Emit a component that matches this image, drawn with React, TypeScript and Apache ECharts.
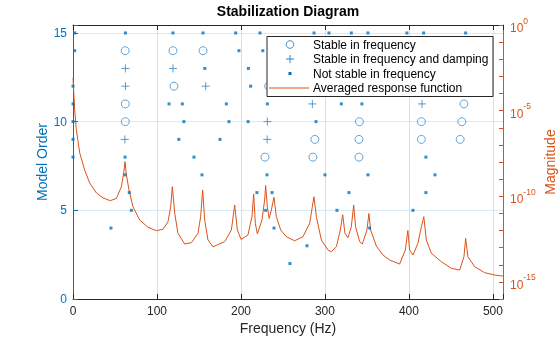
import React, { useEffect, useRef } from 'react';
import * as echarts from 'echarts';

const BLUE = '#0072BD';
const ORANGE = '#D95319';
const INK = '#262626';
const FONT = '"Liberation Sans", Arial, Helvetica, sans-serif';

// [frequency (Hz), model order]
const stableInFrequency: [number, number][] = [
  [62.1, 14], [119, 14], [154.8, 14],
  [120.2, 12], [233, 12],
  [62.3, 11], [465.5, 11],
  [62.3, 10], [341, 10], [414.8, 10], [463, 10],
  [288, 9], [340.5, 9], [414.8, 9], [461, 9],
  [228.6, 8], [285.7, 8], [340.5, 8],
];

const stableInFreqAndDamping: [number, number][] = [
  [62.4, 13], [119, 13],
  [62.4, 12], [158, 12],
  [285, 11], [415.5, 11],
  [231.4, 10],
  [61.7, 9], [231.2, 9],
];

const notStableInFrequency: [number, number][] = [
  [2, 15], [62.4, 15], [119, 15], [154.8, 15], [193.7, 15], [222.6, 15], [287, 15], [304.8, 15], [331.4, 15], [351.2, 15], [397.6, 15], [417.5, 15], [467.5, 15],
  [2, 14], [197.6, 14], [226, 14],
  [157, 13], [208.8, 13],
  [0, 12], [211.5, 12],
  [0, 11], [114.3, 11], [130.2, 11], [182.6, 11], [231.4, 11], [319.5, 11], [344, 11],
  [0, 10], [132, 10], [185.7, 10], [208.5, 10], [289.3, 10],
  [0, 9], [126, 9], [175, 9],
  [0, 8], [62, 8], [144, 8], [420.2, 8],
  [62, 7], [153.6, 7], [231, 7], [300, 7], [351.2, 7], [431, 7],
  [67, 6], [219, 6], [237, 6], [328.6, 6], [420.2, 6],
  [69.5, 5], [229.4, 5], [314.3, 5], [404.8, 5],
  [45.2, 4], [239.3, 4], [353.2, 4],
  [278.6, 3],
  [258.3, 2],
];

// Averaged response function: frequency (Hz) and log10 of magnitude
const responseFreqHz = [
  0, 2.0, 4.0, 8.0, 13.9, 19.9, 27.9, 35.7, 44.5, 51.7, 57.6, 60.4, 61.9, 63.6, 66.7, 71.4, 79.4, 89.3, 99.3,
  107.1, 113.1, 116.3, 118.3, 121.1, 125.0, 133.0, 141.0, 148.8, 152.0, 154.4, 156.8, 160.7, 166.7, 180.6,
  188.6, 192.5, 195.7, 200.2, 208.3, 213.1, 215.1, 217.1, 219.5, 225.0, 228.2, 229.4, 231.4, 233.6, 236.2,
  239.3, 242.1, 247.3, 254.0, 263.9, 273.8, 281.8, 285.0, 286.9, 289.8, 295.7, 303.6, 307.6, 313.6, 318.3,
  321.1, 323.8, 327.4, 331.4, 334.2, 336.5, 341.3, 344.5, 350.0, 352.3, 354.4, 361.2, 369.0, 377.0, 388.9,
  395.7, 398.7, 400.8, 404.8, 410.7, 414.8, 417.7, 420.7, 426.7, 438.6, 450.5, 460.4, 465.5, 467.5, 470.2,
  478.2, 490.1, 502.0, 512,
];
const responseLog10Magnitude = [
  -3.09, -4.96, -6.13, -7.47, -8.47, -9.23, -9.81, -10.10, -10.26, -10.12, -9.44, -8.64, -7.98, -8.76, -9.64, -10.61, -11.39, -11.81, -12.01,
  -11.93, -11.49, -10.61, -9.44, -11.00, -12.16, -12.79, -12.71, -12.16, -11.19, -9.64, -11.39, -12.55, -12.95, -12.65,
  -11.97, -10.51, -11.97, -12.53, -12.26, -11.19, -9.87, -11.58, -12.20, -11.39, -10.22, -9.37, -10.61, -11.30, -10.80,
  -10.06, -11.19, -11.97, -12.36, -12.60, -12.36, -11.58, -10.61, -10.03, -11.19, -12.55, -13.14, -13.24, -12.95, -11.97,
  -11.08, -12.16, -12.42, -11.78, -10.51, -11.78, -12.65, -12.79, -11.97, -11.01, -11.97, -12.91, -13.43, -13.72, -13.96,
  -13.14, -12.00, -13.14, -13.43, -12.75, -11.78, -11.19, -12.55, -13.33, -13.82, -14.21, -14.31, -13.53, -12.46, -13.53,
  -14.11, -14.46, -14.60, -14.66,
];

const legendLabels = [
  'Stable in frequency',
  'Stable in frequency and damping',
  'Not stable in frequency',
  'Averaged response function',
];

export default function App() {
  const ref = useRef<HTMLDivElement>(null);

  useEffect(() => {
    const chart = echarts.init(ref.current!, undefined, { renderer: 'svg' });

    const lx = 267, ly = 36.5, lw = 226, lh = 60;
    const rowY = [44.5, 59, 73.5, 88];
    const iconX = 290;
    const Z = 100;

    chart.setOption({
      animation: false,
      textStyle: { fontFamily: FONT },
      title: {
        text: 'Stabilization Diagram',
        left: 288,
        top: 4,
        padding: 0,
        textAlign: 'center',
        textStyle: { fontSize: 14, fontWeight: 'bold', color: '#000', fontFamily: FONT },
      },
      grid: { left: 73, right: 57, top: 25, bottom: 38, containLabel: false, outerBoundsMode: 'none' },
      xAxis: [
        {
          type: 'value', min: 0, max: 512, interval: 100, position: 'bottom',
          name: 'Frequency (Hz)', nameLocation: 'middle', nameGap: 22, nameMoveOverlap: false,
          nameTextStyle: { fontSize: 14, color: INK, fontFamily: FONT },
          axisLine: { onZero: false, lineStyle: { color: INK, width: 1 } },
          axisTick: { inside: true, length: 5, lineStyle: { color: INK } },
          axisLabel: {
            margin: 6, fontSize: 12, color: INK, fontFamily: FONT,
            formatter: (v: number) => (v % 100 === 0 ? String(v) : ''),
          },
          splitLine: { show: true, lineStyle: { color: '#dedede', width: 1 } },
        },
        {
          type: 'value', min: 0, max: 512, interval: 100, position: 'top',
          axisLine: { onZero: false, lineStyle: { color: INK, width: 1 } },
          axisTick: { inside: true, length: 5, lineStyle: { color: INK } },
          axisLabel: { show: false },
          splitLine: { show: false },
        },
      ],
      yAxis: [
        {
          type: 'value', min: 0, max: 15.45, interval: 5, position: 'left',
          name: 'Model Order', nameLocation: 'middle', nameGap: 24, nameRotate: 90, nameMoveOverlap: false,
          nameTextStyle: { fontSize: 14, color: BLUE, fontFamily: FONT },
          axisLine: { onZero: false, lineStyle: { color: BLUE, width: 1 } },
          axisTick: { inside: true, length: 5, lineStyle: { color: BLUE } },
          axisLabel: {
            margin: 6, fontSize: 12, color: BLUE, fontFamily: FONT,
            formatter: (v: number) => (v % 5 === 0 ? String(v) : ''),
          },
          splitLine: { show: true, lineStyle: { color: '#d9eaf5', width: 1 } },
        },
        {
          type: 'value', min: -16, max: 0, interval: 1, position: 'right',
          name: 'Magnitude', nameLocation: 'middle', nameGap: 40, nameRotate: 90, nameMoveOverlap: false,
          nameTextStyle: { fontSize: 14, color: ORANGE, fontFamily: FONT },
          axisLine: { onZero: false, lineStyle: { color: ORANGE, width: 1 } },
          axisTick: { inside: true, length: 4, lineStyle: { color: ORANGE } },
          axisLabel: {
            margin: 7, color: ORANGE, fontFamily: FONT,
            formatter: (v: number) => (Math.round(v) % 5 === 0 ? `{b|10}{s|${Math.round(v)}}` : ''),
            rich: {
              b: { fontSize: 12, color: ORANGE, fontFamily: FONT, lineHeight: 18, verticalAlign: 'bottom' },
              s: { fontSize: 8.5, color: ORANGE, fontFamily: FONT, lineHeight: 18, verticalAlign: 'top' },
            },
          },
          splitLine: { show: false },
        },
      ],
      series: [
        {
          name: legendLabels[3], type: 'line', xAxisIndex: 0, yAxisIndex: 1,
          data: responseFreqHz.map((f, i) => [f, responseLog10Magnitude[i]]),
          showSymbol: false, symbol: 'none', smooth: false,
          lineStyle: { color: ORANGE, width: 1 },
          z: 2,
        },
        {
          name: legendLabels[0], type: 'scatter', xAxisIndex: 0, yAxisIndex: 0,
          data: stableInFrequency, symbol: 'circle', symbolSize: 8,
          itemStyle: { color: 'rgba(0,0,0,0)', borderColor: '#3a8dcf', borderWidth: 1 },
          z: 3,
        },
        {
          name: legendLabels[1], type: 'scatter', xAxisIndex: 0, yAxisIndex: 0,
          data: stableInFreqAndDamping, symbol: 'path://M0,5L10,5M5,0L5,10', symbolSize: 8,
          itemStyle: { color: 'none', borderColor: '#2a84cc', borderWidth: 1 },
          z: 3,
        },
        {
          name: legendLabels[2], type: 'scatter', xAxisIndex: 0, yAxisIndex: 0,
          data: notStableInFrequency, symbol: 'rect', symbolSize: 3,
          itemStyle: { color: BLUE },
          z: 3,
        },
      ],
      graphic: [
        { type: 'rect', z: Z, shape: { x: lx, y: ly, width: lw, height: lh }, style: { fill: '#fff', stroke: INK, lineWidth: 1 } },
        { type: 'circle', z: Z + 1, shape: { cx: iconX, cy: rowY[0], r: 3.8 }, style: { fill: 'none', stroke: '#3a8dcf', lineWidth: 1 } },
        { type: 'line', z: Z + 1, shape: { x1: iconX - 4, y1: rowY[1], x2: iconX + 4, y2: rowY[1] }, style: { stroke: '#2a84cc', lineWidth: 1 } },
        { type: 'line', z: Z + 1, shape: { x1: iconX, y1: rowY[1] - 4, x2: iconX, y2: rowY[1] + 4 }, style: { stroke: '#2a84cc', lineWidth: 1 } },
        { type: 'rect', z: Z + 1, shape: { x: iconX - 1.5, y: rowY[2] - 1.5, width: 3, height: 3 }, style: { fill: BLUE } },
        { type: 'line', z: Z + 1, shape: { x1: 269, y1: rowY[3], x2: 309, y2: rowY[3] }, style: { stroke: ORANGE, lineWidth: 1 } },
        ...legendLabels.map((t, i) => ({
          type: 'text', z: Z + 1, x: 313, y: rowY[i],
          style: { text: t, fill: '#000', fontSize: 12, fontFamily: FONT, verticalAlign: 'middle', align: 'left' },
        })),
      ],
    });

    return () => chart.dispose();
  }, []);

  return <div ref={ref} style={{ position: 'fixed', left: 0, top: 0, width: 560, height: 337 }} />;
}
